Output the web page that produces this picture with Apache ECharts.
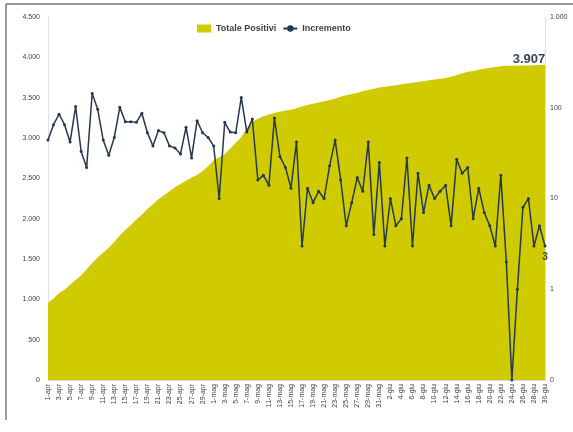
<!DOCTYPE html>
<html>
<head>
<meta charset="utf-8">
<script src="https://cdn.jsdelivr.net/npm/echarts@6/dist/echarts.min.js"></script>
<style>
  html, body { margin: 0; padding: 0; background: #fff; }
  #chart { width: 573px; height: 432px; }
</style>
</head>
<body>
<div id="chart"></div>
<script>
// mesi e giorni (1-apr .. 30-giu)
var mesi = ['apr', 'mag', 'giu'];
var giorniMese = [30, 31, 30];

// Totale Positivi (asse sinistro)
var totalePositivi = [
    955, 1010, 1080, 1120, 1180, 1240, 1300, 1370, 1450, 1520,
    1580, 1640, 1710, 1790, 1860, 1920, 1990, 2050, 2120, 2180,
    2240, 2290, 2340, 2390, 2430, 2470, 2510, 2540, 2590, 2650,
    2720, 2760, 2800, 2870, 2940, 3010, 3120, 3200, 3240, 3270,
    3290, 3310, 3325, 3340, 3350, 3370, 3390, 3410, 3425, 3440,
    3455, 3470, 3490, 3510, 3530, 3545, 3560, 3580, 3595, 3610,
    3625, 3635, 3645, 3655, 3665, 3675, 3685, 3695, 3705, 3715,
    3725, 3735, 3745, 3760, 3780, 3800, 3820, 3830, 3845, 3860,
    3870, 3880, 3890, 3895, 3897, 3898, 3899, 3900, 3902, 3905,
    3907
];

// Incremento giornaliero (asse destro, logaritmico)
var incremento = [
    44, 65, 85, 65, 42, 103, 33, 22, 144, 96,
    44, 30, 47, 101, 70, 70, 69, 87, 53, 38,
    56, 53, 38, 36, 31, 61, 28, 72, 53, 47,
    38, 10, 69, 54, 53, 130, 54, 75, 16, 18,
    14, 77, 29, 22, 13, 42, 3, 13, 9, 12,
    10, 23, 44, 16, 5, 9, 17, 12, 42, 4,
    25, 3, 10, 5, 6, 28, 3, 19, 7, 14,
    10, 12, 14, 5, 27, 19, 22, 6, 13, 7,
    5, 3, 18, 2, 0, 1, 8, 10, 3, 5,
    3
];

var date = [];
for (var m = 0; m < mesi.length; m++) {
    for (var g = 1; g <= giorniMese[m]; g++) {
        date.push(g + '-' + mesi[m]);
    }
}

function fmtIt(v) {
    return String(v).replace(/\B(?=(\d{3})+(?!\d))/g, '.');
}

var ultimo = totalePositivi.length - 1;

// area: l'ultimo punto porta l'etichetta del totale
var areaData = totalePositivi.map(function (v, i) {
    if (i === ultimo) {
        return {
            value: v,
            label: {
                show: true, position: 'top', offset: [-16, 6],
                formatter: fmtIt(v), fontSize: 13, fontWeight: 'bold', color: '#3b4656'
            }
        };
    }
    return v;
});

// su scala log lo zero va in fondo all'asse (0,1)
var lineaData = incremento.map(function (v, i) {
    var y = v > 0 ? v : 0.1;
    if (i === ultimo) {
        return {
            value: y,
            label: {
                show: true, position: 'bottom', offset: [0, 0],
                formatter: String(v), fontSize: 10, fontWeight: 'bold', color: '#3b4656'
            }
        };
    }
    return y;
});

var chart = echarts.init(document.getElementById('chart'));

var option = {
    backgroundColor: '#fff',
    textStyle: { fontFamily: 'Liberation Sans' },
    animation: false,
    graphic: [
        { type: 'line', shape: { x1: 6, y1: 4, x2: 573, y2: 4 }, style: { stroke: '#777', lineWidth: 1.5 } },
        { type: 'line', shape: { x1: 6, y1: 4, x2: 6, y2: 420 }, style: { stroke: '#777', lineWidth: 1.5 } }
    ],
    legend: {
        top: 19,
        left: 192,
        itemGap: 6,
        itemWidth: 14,
        itemHeight: 8,
        textStyle: { fontSize: 9, fontWeight: 'bold', color: '#404040' },
        data: [
            { name: 'Totale Positivi', icon: 'rect' },
            { name: 'Incremento' }
        ]
    },
    grid: { left: 48, right: 28, top: 17, bottom: 52 },
    xAxis: {
        type: 'category',
        data: date,
        boundaryGap: false,
        axisLine: { lineStyle: { color: '#d9d9d9' } },
        axisTick: { show: false },
        axisLabel: {
            interval: 1,
            rotate: 90,
            fontSize: 7,
            color: '#404040',
            margin: 4
        }
    },
    yAxis: [
        {
            type: 'value',
            min: 0,
            max: 4500,
            interval: 500,
            axisLine: { show: true, lineStyle: { color: '#e0e0e0' } },
            axisTick: { show: false },
            splitLine: { show: false },
            axisLabel: {
                fontSize: 7,
                color: '#404040',
                margin: 8,
                formatter: function (v) { return fmtIt(v); }
            }
        },
        {
            type: 'log',
            logBase: 10,
            min: 0.1,
            max: 1000,
            position: 'right',
            axisLine: { show: true, lineStyle: { color: '#e0e0e0' } },
            axisTick: { show: false },
            splitLine: { show: false },
            axisLabel: {
                fontSize: 7,
                color: '#404040',
                margin: 5,
                formatter: function (v) {
                    if (v < 1) return '0';
                    return fmtIt(Math.round(v));
                }
            }
        }
    ],
    series: [
        {
            name: 'Totale Positivi',
            type: 'line',
            yAxisIndex: 0,
            symbol: 'circle',
            symbolSize: 0,
            showSymbol: true,
            itemStyle: { color: '#cfcb00' },
            lineStyle: { width: 0 },
            areaStyle: { color: '#cfcb00', opacity: 1 },
            z: 1,
            data: areaData
        },
        {
            name: 'Incremento',
            type: 'line',
            yAxisIndex: 1,
            symbol: 'circle',
            symbolSize: 3,
            itemStyle: { color: '#24384f' },
            lineStyle: { color: '#24384f', width: 1.5 },
            z: 3,
            data: lineaData
        }
    ]
};

chart.setOption(option);
</script>
</body>
</html>
